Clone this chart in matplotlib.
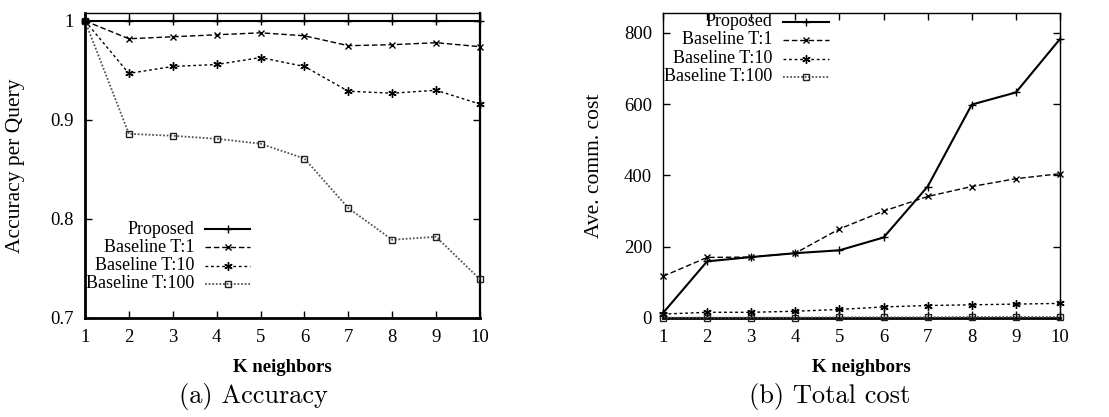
import matplotlib.pyplot as plt
from matplotlib.lines import Line2D

W, H = 1109, 417

k_neighbors = [1, 2, 3, 4, 5, 6, 7, 8, 9, 10]

# (a) accuracy per query
acc_proposed = [1.0, 1.0, 1.0, 1.0, 1.0, 1.0, 1.0, 1.0, 1.0, 1.0]
acc_t1 = [1.0, 0.982, 0.984, 0.986, 0.988, 0.985, 0.975, 0.976, 0.978, 0.974]
acc_t10 = [1.0, 0.947, 0.954, 0.956, 0.963, 0.954, 0.929, 0.927, 0.930, 0.916]
acc_t100 = [1.0, 0.886, 0.884, 0.881, 0.876, 0.861, 0.811, 0.779, 0.782, 0.739]

# (b) average communication cost
cost_proposed = [14, 159, 171, 182, 190, 226, 369, 599, 633, 783]
cost_t1 = [117, 170, 171, 182, 250, 300, 341, 369, 391, 405]
cost_t10 = [11, 16, 16, 19, 24, 31, 35, 37, 39, 41]
cost_t100 = [1, 1, 1, 1, 2, 2, 2, 3, 3, 3]

labels = ["Proposed", "Baseline T:1", "Baseline T:10", "Baseline T:100"]

ASTER = (6, 2, 0)
STYLES = [
    dict(color="black", lw=1.5, ls="-", marker="+", ms=6, mew=1.0),
    dict(color="black", lw=1.0, ls=(0, (4, 2)), marker="x", ms=4.5, mew=1.0),
    dict(color="black", lw=1.0, ls=(0, (2, 2)), marker=ASTER, ms=6, mew=1.0),
    dict(color="#555555", lw=1.3, ls=(0, (1, 1)), marker="s", ms=5, mew=1.0,
         mfc="none", mec="#222222"),
]

SERIF = ["Liberation Serif", "DejaVu Serif"]
plt.rcParams["font.family"] = SERIF


def fx(px):
    return px / W


def fy(py):
    return 1 - py / H


def style_axes(ax, widths):
    for side, lw in widths.items():
        ax.spines[side].set_linewidth(lw)
    ax.tick_params(direction="in", length=5, width=1.0, top=True, right=True,
                   labelsize=13.5, pad=8)


def manual_legend(fig, x_text, x_l0, x_l1, ys):
    for lab, st, y in zip(labels, STYLES, ys):
        fig.text(fx(x_text), fy(y), lab, ha="right", va="center", fontsize=13)
        fig.add_artist(Line2D([fx(x_l0), fx(x_l1)], [fy(y), fy(y)], **st,
                              markevery=[], transform=fig.transFigure))
        mk = dict(st)
        mk["ls"] = "none"
        fig.add_artist(Line2D([fx((x_l0 + x_l1) / 2)], [fy(y)], **mk,
                              transform=fig.transFigure))


fig = plt.figure(figsize=(W / 100, H / 100), dpi=100)
fig.patch.set_facecolor("white")

ax1 = fig.add_axes([fx(85), fy(318), fx(480 - 85), (318 - 13) / H])
for vals, st in zip([acc_t100, acc_t10, acc_t1, acc_proposed], STYLES[::-1]):
    ax1.plot(k_neighbors, vals, clip_on=False, zorder=3, **st)
ax1.set_xlim(1, 10)
ax1.set_ylim(0.7, 1.008)
ax1.set_xticks(k_neighbors)
ax1.set_yticks([0.7, 0.8, 0.9, 1.0])
ax1.set_yticklabels(["0.7", "0.8", "0.9", "1"])
style_axes(ax1, {"left": 2.0, "bottom": 2.0, "right": 1.6, "top": 1.0})
ax1.set_ylabel("Accuracy per Query", fontsize=15.5, labelpad=18)
ax1.set_xlabel("K neighbors", fontsize=13.5, fontweight="bold", labelpad=9)

ax2 = fig.add_axes([fx(663), fy(318), fx(1060 - 663), (318 - 13) / H])
for vals, st in zip([cost_t100, cost_t10, cost_t1, cost_proposed], STYLES[::-1]):
    ax2.plot(k_neighbors, vals, clip_on=False, zorder=3, **st)
ax2.set_xlim(1, 10)
ax2.set_ylim(0, 856)
ax2.set_xticks(k_neighbors)
ax2.set_yticks([0, 200, 400, 600, 800])
style_axes(ax2, {"left": 1.0, "bottom": 2.0, "right": 1.0, "top": 1.0})
ax2.set_ylabel("Ave. comm. cost", fontsize=15.5, labelpad=14)
ax2.set_xlabel("K neighbors", fontsize=13.5, fontweight="bold", labelpad=9)

manual_legend(fig, 194, 205, 250, [229, 247, 265.5, 283.5])
manual_legend(fig, 772, 783, 829, [21.5, 40, 58.5, 76.5])

fig.text(fx(253), fy(397), "(a) Accuracy", ha="center", va="center",
         fontsize=19, family=["cmr10", "DejaVu Serif"])
fig.text(fx(830), fy(397), "(b) Total cost", ha="center", va="center",
         fontsize=19, family=["cmr10", "DejaVu Serif"])

fig.savefig("out.png", dpi=100)
